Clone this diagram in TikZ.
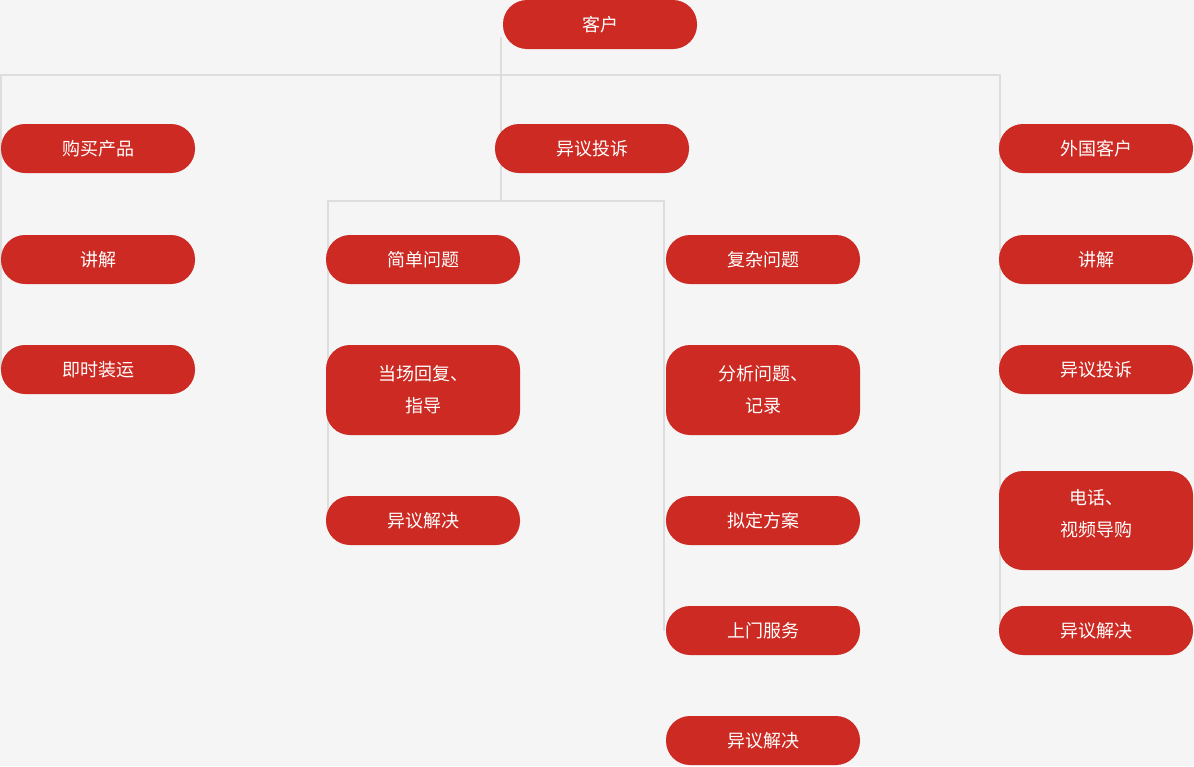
\documentclass[tikz,border=0pt]{standalone}
\usepackage{fontspec}
\newfontfamily\cjk{Noto Sans CJK SC}

\definecolor{boxred}{HTML}{CC2A22}
\definecolor{linegray}{HTML}{DDDDDD}
\definecolor{bggray}{HTML}{F5F5F5}
\pgfdeclarelayer{back}
\pgfsetlayers{back,main}

\begin{document}
\begin{tikzpicture}[x=1pt,y=-1pt,
    box/.style={fill=boxred,text=white,rounded corners=24pt,minimum width=194pt,
        minimum height=49pt,inner sep=0pt,align=center,font=\cjk\fontsize{18}{32}\selectfont},
    link/.style={draw=linegray,line width=2pt}]

    \useasboundingbox (0,0) rectangle (1194,766);

    \node [box] (kh) at (600,24.5) {客户};

    % left column
    \node [box] (gmcp) at (98,148.5) {购买产品};
    \node [box] (jj1) at (98,259.5) {讲解};
    \node [box] (jszy) at (98,369.5) {即时装运};

    % middle
    \node [box] (yyts) at (592,148.5) {异议投诉};

    \node [box] (jdwt) at (423,259.5) {简单问题};
    \node [box,minimum height=90pt] (dchf) at (423,390) {当场回复、\\指导};
    \node [box] (yyjj1) at (423,520.5) {异议解决};

    \node [box] (fzwt) at (763,259.5) {复杂问题};
    \node [box,minimum height=90pt] (fxwt) at (763,390) {分析问题、\\记录};
    \node [box] (ndfa) at (763,520.5) {拟定方案};
    \node [box] (smfw) at (763,630.5) {上门服务};
    \node [box] (yyjj2) at (763,740.5) {异议解决};

    % right column
    \node [box] (wgkh) at (1096,148.5) {外国客户};
    \node [box] (jj2) at (1096,259.5) {讲解};
    \node [box] (yyts2) at (1096,369.5) {异议投诉};
    \node [box,minimum height=99pt,text depth=16pt] (dhsp) at (1096,520.5) {电话、\\视频导购};
    \node [box] (yyjj3) at (1096,630.5) {异议解决};

    \coordinate (top) at (501,37);
    \coordinate (busL) at (1,75);
    \coordinate (busR) at (1000,75);
    \coordinate (subL) at (328,201);
    \coordinate (subM) at (501,201);
    \coordinate (subR) at (664,201);

    \begin{pgfonlayer}{back}
        \fill [bggray] (0,0) rectangle (1194,766);
        \draw [link] (top) -- (subM);
        \draw [link] (busL |- jszy) -- (busL) -- (busR) -- (busR |- yyjj3);
        \draw [link] (subL |- yyjj1) -- (subL) -- (subR) -- (subR |- smfw);
    \end{pgfonlayer}

\end{tikzpicture}
\end{document}
